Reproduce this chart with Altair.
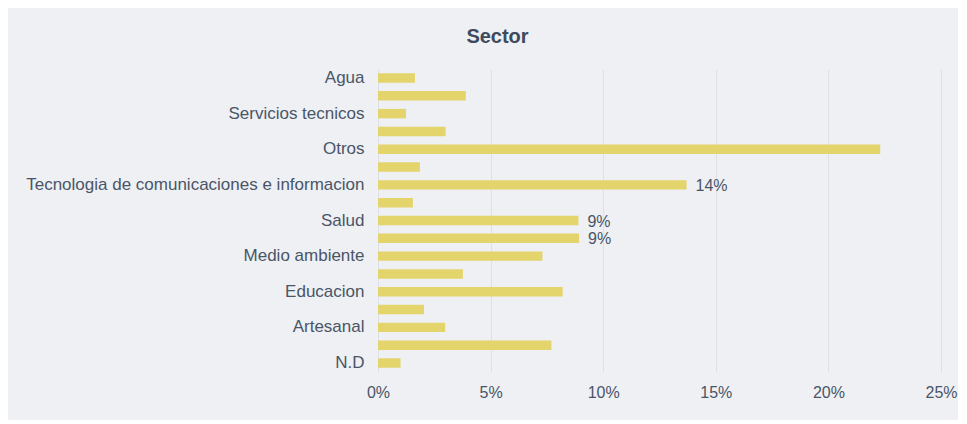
import altair as alt
import pandas as pd

categories = [
    "Agua", "Alimentos y bebidas", "Servicios tecnicos", "Turismo", "Otros",
    "Manufactura", "Tecnologia de comunicaciones e informacion", "Energia",
    "Salud", "Comercio", "Medio ambiente", "Construccion", "Educacion",
    "Transporte", "Artesanal", "Agropecuario", "N.D",
]
values = [1.64, 3.9, 1.24, 3.0, 22.3, 1.86, 13.7, 1.55, 8.9, 8.93, 7.3, 3.77,
          8.2, 2.04, 2.98, 7.7, 1.0]
bar_labels = ["", "", "", "", "", "", "14%", "", "9%", "9%", "", "", "", "", "", "", ""]
shown_axis_labels = ["Agua", "Servicios tecnicos", "Otros",
                     "Tecnologia de comunicaciones e informacion", "Salud",
                     "Medio ambiente", "Educacion", "Artesanal", "N.D"]
x_ticks = [0, 5, 10, 15, 20, 25]

df = pd.DataFrame({"sector": categories, "pct": [v / 100 for v in values], "label": bar_labels})

FONT = "Liberation Sans"
TXT = "#4a5568"
shown_js = "[" + ",".join("'" + s + "'" for s in shown_axis_labels) + "]"

y_enc = alt.Y("sector:N", sort=categories, title=None,
              scale=alt.Scale(paddingInner=0.47, paddingOuter=0.24),
              axis=alt.Axis(labelExpr="indexof(" + shown_js + ", datum.label) >= 0 ? datum.label : ''",
                            labelFontSize=17, labelColor=TXT, labelFont=FONT,
                            labelPadding=14, ticks=False, domain=False, grid=False,
                            labelLimit=500))
x_enc = alt.X("pct:Q", title=None,
              scale=alt.Scale(domain=[0, 0.25], nice=False),
              axis=alt.Axis(values=[t / 100 for t in x_ticks], format=".0%",
                            labelFontSize=16, labelColor=TXT, labelFont=FONT,
                            labelPadding=12, ticks=False, domain=False, labelFlush=False,
                            grid=True, gridColor="#dde1e7", gridWidth=1))

base = alt.Chart(df)
bars = base.mark_bar(color="#e3d46b").encode(x=x_enc, y=y_enc)
texts = base.mark_text(align="left", baseline="middle", dx=9, dy=1, fontSize=16,
                       font=FONT, color=TXT).encode(
    x=alt.X("pct:Q"), y=alt.Y("sector:N", sort=categories), text="label:N")

chart = (bars + texts).properties(
    width=563, height=303,
    title=alt.TitleParams("Sector", fontSize=20, font=FONT, fontWeight="bold",
                          color="#3e4a5e", anchor="middle", dx=-162, offset=21),
    background="#eef0f3",
    padding={"left": 370, "top": 61, "right": 17, "bottom": 48},
    autosize=alt.AutoSizeParams(type="none"),
).configure_view(stroke=None)

chart.save("out.html", embed_options={"renderer": "svg", "actions": False})
